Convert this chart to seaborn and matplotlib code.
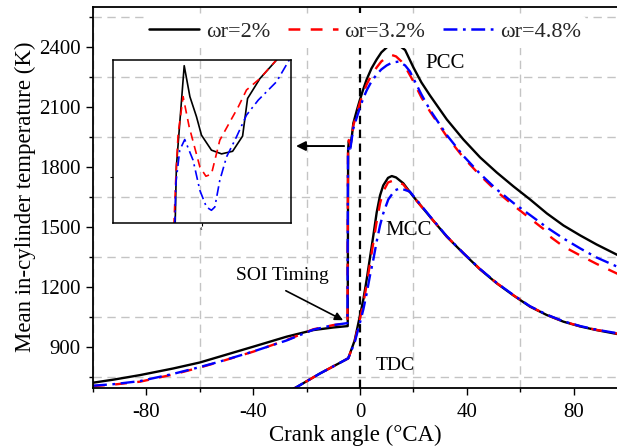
import matplotlib
matplotlib.use("Agg")
import matplotlib.pyplot as plt
import seaborn as sns
import pandas as pd
from matplotlib.ticker import FixedLocator
from matplotlib.lines import Line2D

# ---------------- data ----------------
labels = ["ωr=2%", "ωr=3.2%", "ωr=4.8%"]
colors = ["#000000", "#ff0000", "#0000ff"]

# PCC curves
pcc_x_2 = [-100, -92, -82.4, -70, -60, -52.4, -40, -27.5, -17.5, -10, -4.6, -4.45, -4.2, -3.6, -3.0, -2.5,
           -1.2, 0, 1.2, 2.5, 4.3, 6.25, 8, 10, 11.5, 13.1, 14.8, 16.9, 20, 23, 26.2, 32.5, 38.7, 45, 51.2,
           57.5, 63.7, 70, 76.2, 82.5, 88.6, 96.5]
pcc_T_2 = [724, 740, 762, 795, 825, 855, 904, 954, 987, 1000, 1007, 1890, 1930, 1905, 1962, 2021,
           2085, 2140, 2190, 2240, 2295, 2340, 2375, 2400, 2414, 2418, 2408, 2387, 2300, 2225, 2160, 2040, 1940, 1850, 1775,
           1705, 1640, 1570, 1510, 1460, 1415, 1362]

pcc_x_32 = [-100, -92, -82.4, -70, -60, -52.4, -40, -27.5, -17.5, -10, -4.7, -4.5, -4.2, -3.6, -3.0, -2.5,
            -1.2, 0, 1.2, 2.5, 4.3, 6.25, 8, 10, 11.9, 13.5, 15.5, 17.5, 20, 23, 26.2, 32.5, 38.7, 45, 51.2,
            57.5, 63.7, 68, 71.0, 71.6, 76.2, 82.5, 88.6, 96.5]
pcc_T_32 = [707, 715, 729, 765, 800, 829, 879, 937, 991, 1012, 1021, 1880, 1937, 1910, 1958, 2010,
            2070, 2125, 2170, 2215, 2262, 2300, 2330, 2350, 2362, 2355, 2330, 2290, 2230, 2150, 2080, 1955, 1850, 1760, 1680,
            1610, 1545, 1500, 1470, 1450, 1405, 1360, 1318, 1268]

pcc_x_48 = [-100, -92, -82.4, -70, -60, -52.4, -40, -27.5, -17.5, -10, -4.7, -4.5, -4.2, -3.6, -3.0, -2.5,
            -1.2, 0, 1.2, 2.5, 4.3, 6.25, 8, 10, 12, 14.4, 16.9, 18.7, 20, 23, 26.2, 32.5, 38.7, 45, 51.2,
            57.5, 63.7, 70, 76.2, 82.5, 88.6, 96.5]
pcc_T_48 = [709, 717, 732, 768, 802, 830, 880, 935, 989, 1012, 1022, 1870, 1911, 1895, 1950, 1995,
            2050, 2100, 2145, 2185, 2230, 2265, 2290, 2310, 2324, 2329, 2310, 2280, 2245, 2165, 2088, 1962, 1858, 1768, 1690,
            1622, 1562, 1500, 1445, 1395, 1350, 1303]

# MCC curves
mcc_x_2 = [-35, -24, -15, -8, -4.4, -2, 0, 1.25, 2.5, 3.75, 5, 6.25, 7.5, 8.7, 10.5, 11.9, 13.5, 16.2, 20, 26.2,
           32.5, 38.7, 45, 51.2, 57.5, 63.7, 70, 76.2, 82.5, 88.6, 96.5]
mcc_T_2 = [620, 700, 770, 820, 846, 935, 1060, 1140, 1240, 1350, 1460, 1575, 1660, 1710, 1748, 1757, 1750, 1721, 1654, 1554,
           1454, 1371, 1290, 1221, 1160, 1104, 1062, 1029, 1005, 987, 967]

mcc_x_32 = [-35, -24, -15, -8, -4.4, -2, 0, 1.25, 2.5, 3.75, 5, 6.25, 7.5, 8.7, 10.5, 13, 16.2, 20, 26.2,
            32.5, 38.7, 45, 51.2, 57.5, 63.7, 70, 76.2, 82.5, 88.6, 96.5]
mcc_T_32 = [620, 700, 770, 820, 846, 930, 1045, 1120, 1215, 1320, 1425, 1530, 1620, 1680, 1725, 1737, 1715, 1652, 1554,
            1455, 1372, 1291, 1222, 1161, 1105, 1063, 1030, 1006, 988, 969]

mcc_x_48 = [-35, -24, -15, -8, -4.4, -2, 0, 1.25, 2.5, 3.75, 5, 6.25, 7.5, 8.7, 10.6, 13, 15, 18.7, 22, 26.2,
            32.5, 38.7, 45, 51.2, 57.5, 63.7, 70, 76.2, 82.5, 88.6, 96.5]
mcc_T_48 = [620, 700, 770, 820, 846, 925, 1025, 1090, 1170, 1260, 1340, 1430, 1510, 1570, 1640, 1685, 1696, 1679, 1625, 1556,
            1456, 1372, 1292, 1223, 1162, 1106, 1064, 1031, 1007, 989, 971]

# Inset (zoom of the SOI jump)
ins_x_2 = [-4.302, -4.288, -4.2, -4.136, -4.062, -4.006, -3.894, -3.78, -3.656, -3.544, -3.488, -3.348, -3.162, -3.1]
ins_T_2 = [1858, 1894.4, 1956.5, 1937.5, 1925.2, 1913.9, 1904.7, 1902.4, 1904, 1913.3, 1936.4, 1948.7, 1960, 1965]
ins_x_32 = [-4.316, -4.294, -4.268, -4.212, -4.144, -4.024, -3.956, -3.894, -3.8, -3.686, -3.592, -3.5, -3.348, -3.18, -3.1]
ins_T_32 = [1858, 1888.3, 1914.9, 1937.5, 1919, 1894.4, 1888.7, 1890, 1910.8, 1922.1, 1931.3, 1941.6, 1948.7, 1959, 1965]
ins_x_48 = [-4.306, -4.294, -4.25, -4.194, -4.1, -4.024, -3.95, -3.894, -3.856, -3.8, -3.724, -3.612, -3.5, -3.368, -3.162, -3.02]
ins_T_48 = [1858, 1884.2, 1904.7, 1911.2, 1898.5, 1880, 1869.8, 1867.8, 1869.8, 1886.2, 1900.6, 1912.9, 1926.2, 1935.4, 1946.7, 1960]

x_major = [-80, -40, 0, 40, 80]
y_major = [900, 1200, 1500, 1800, 2100, 2400]

# ---------------- style ----------------
sns.set_theme(style="white")
plt.rcParams["font.family"] = ["Liberation Serif", "DejaVu Serif"]
plt.rcParams["mathtext.fontset"] = "stix"
plt.rcParams["lines.scale_dashes"] = False

styles = ["-", (0, (8.5, 7.5)), (0, (10, 4, 2, 4))]

fig = plt.figure(figsize=(6.17, 4.48), dpi=100)
ax = fig.add_axes([93 / 617, (448 - 387.5) / 448, 1 - 93 / 617, (387.5 - 7) / 448])

def draw(axx, x, y, color, ls, lw):
    df = pd.DataFrame({"x": x, "y": y})
    sns.lineplot(data=df, x="x", y="y", color=color, linestyle=ls, linewidth=lw,
                 estimator=None, sort=False, ax=axx)

for xs, ys in [(mcc_x_2, mcc_T_2), (pcc_x_2, pcc_T_2)]:
    draw(ax, xs, ys, colors[0], styles[0], 1.7)
for xs, ys in [(mcc_x_32, mcc_T_32), (pcc_x_32, pcc_T_32)]:
    draw(ax, xs, ys, colors[1], styles[1], 1.7)
for xs, ys in [(mcc_x_48, mcc_T_48), (pcc_x_48, pcc_T_48)]:
    draw(ax, xs, ys, colors[2], styles[2], 1.7)

ax.axvline(0, color="black", linestyle=(0, (6, 4)), linewidth=1.6, zorder=1)

ax.set_xlim(-100, (617 - 360) / 2.67)
ax.set_ylim(700, 2602)
ax.xaxis.set_major_locator(FixedLocator(x_major))
ax.xaxis.set_minor_locator(FixedLocator([-100, -60, -20, 20, 60]))
ax.yaxis.set_major_locator(FixedLocator(y_major))
ax.yaxis.set_minor_locator(FixedLocator([750, 1050, 1350, 1650, 1950, 2250, 2550]))
ax.set_xticklabels([str(v) for v in x_major])
ax.set_yticklabels([str(v) for v in y_major])
ax.tick_params(which="major", direction="out", length=5, width=1.0, labelsize=15,
               bottom=True, left=True, top=False, right=False, color="black", labelcolor="black")
ax.tick_params(axis="x", which="major", pad=6)
ax.tick_params(axis="y", which="major", pad=4)
ax.tick_params(which="minor", direction="out", length=3, width=1.0,
               bottom=True, left=True, top=False, right=False, color="black")
ax.grid(which="major", visible=False)
ax.grid(which="minor", color="#c4c4c4", linestyle=(0, (6, 4)), linewidth=1.0)
ax.set_axisbelow(True)

for s in ["left", "bottom", "top"]:
    ax.spines[s].set_visible(True)
    ax.spines[s].set_color("black")
    ax.spines[s].set_linewidth(1.3)
ax.spines["right"].set_visible(False)

ax.set_xlabel("Crank angle (°CA)", fontsize=16.5, color="black", labelpad=2)
ax.set_ylabel("Mean in-cylinder temperature (K)", fontsize=16.5, color="black", labelpad=2)

# annotations
ax.text(24.3, 2320, "PCC", fontsize=15, va="center", ha="left", color="black")
ax.text(9.4, 1485, "MCC", fontsize=15, va="center", ha="left", color="black")
ax.text(5.8, 812, "TDC", fontsize=14, va="center", ha="left", color="black")
ax.text(-46.4, 1262, "SOI Timing", fontsize=14, va="center", ha="left", color="black")
ax.annotate("", xy=(-5.4, 1030), xytext=(-28.7, 1190),
            arrowprops=dict(arrowstyle="-|>", color="black", lw=1.2, mutation_scale=12))
ax.annotate("", xy=(-25.0, 1907), xytext=(-4.9, 1907),
            arrowprops=dict(arrowstyle="-|>", color="black", lw=1.4, mutation_scale=14))

# legend
handles = [Line2D([], [], color=c, linestyle=ls, linewidth=1.8) for c, ls in zip(colors, styles)]
leg = ax.legend(handles, labels, loc="center", bbox_to_anchor=(0.519, 0.935), ncol=3,
                frameon=True, facecolor="white", edgecolor="none", framealpha=1.0,
                fontsize=16, handlelength=2.25, handletextpad=0.3, columnspacing=0.8,
                borderpad=0.25)
leg.set_zorder(10)

# inset
axi = fig.add_axes([113 / 617, (448 - 223) / 448, 178 / 617, 163 / 448])
axi.patch.set_alpha(0.0)
draw(axi, ins_x_2, ins_T_2, colors[0], "-", 1.2)
draw(axi, ins_x_32, ins_T_32, colors[1], (0, (6, 4)), 1.2)
draw(axi, ins_x_48, ins_T_48, colors[2], (0, (7, 3, 1.5, 3)), 1.2)
axi.set_xlim(-5, -3)
axi.set_ylim(1860, 1960)
axi.set_xticks([-4])
axi.set_xticklabels(["-4"])
axi.set_yticks([1888])
axi.set_yticklabels([""])
axi.tick_params(direction="out", length=2, width=0.8, labelsize=3, pad=1,
                bottom=True, left=True, color="black", labelcolor="black")
axi.set_xlabel("")
axi.set_ylabel("")
axi.grid(False)
for s in axi.spines.values():
    s.set_visible(True)
    s.set_color("black")
    s.set_linewidth(1.1)

fig.savefig("out.png", dpi=100)
